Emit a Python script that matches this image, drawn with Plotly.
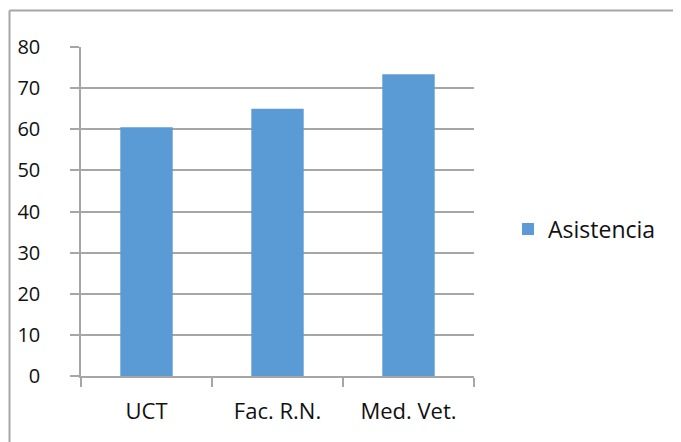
import plotly.graph_objects as go

categories = ["UCT", "Fac. R.N.", "Med. Vet."]
asistencia = [60.5, 65, 73.4]
series_name = "Asistencia"
y_ticks = [0, 10, 20, 30, 40, 50, 60, 70, 80]

OFF = 8  # default page body margin
W, H = 681, 442
# target plot area in page pixels: x 81..474, y 47..376
PX0, PX1, PY0, PY1 = 81, 474, 47, 376
L = PX0 - OFF
T = PY0 - OFF
R = W - (PX1 - OFF)
B = H - (PY1 - OFF)
pw = PX1 - PX0
ph = PY1 - PY0

def px_x(x):
    return (x - PX0) / pw

def px_y(y):
    return (PY1 - y) / ph

fig = go.Figure()
fig.add_trace(go.Bar(
    x=categories, y=asistencia, name=series_name,
    marker=dict(color="#5b9bd5", line=dict(width=0)),
    showlegend=True,
))

grid = "#a6a6a6"
fig.update_layout(
    width=W, height=H,
    margin=dict(l=L, r=R, t=T, b=B, autoexpand=False),
    paper_bgcolor="white", plot_bgcolor="white",
    font=dict(family="Open Sans, Noto Sans, sans-serif", size=22, color="#111111"),
    bargap=0.6,
    showlegend=True,
    legend=dict(x=px_x(508), y=px_y(229), xanchor="left", yanchor="middle",
                font=dict(size=23), bgcolor="rgba(0,0,0,0)"),
    xaxis=dict(
        type="category", showgrid=False, showline=True, linecolor=grid, linewidth=1.5,
        ticks="outside", tickson="boundaries", ticklen=9, tickcolor=grid, tickwidth=1.5,
        ticklabelstandoff=15, zeroline=False, automargin=False,
        tickfont=dict(size=22),
    ),
    yaxis=dict(
        range=[0, 80], tickvals=y_ticks, showgrid=True, gridcolor=grid, gridwidth=1.5,
        showline=True, linecolor=grid, linewidth=1.5,
        ticks="outside", ticklen=9, tickcolor=grid, tickwidth=1.5,
        ticklabelstandoff=26, zeroline=False, automargin=False,
        tickfont=dict(size=20),
    ),
    shapes=[
        dict(type="line", xref="paper", yref="paper",
             x0=px_x(9.5), x1=px_x(9.5), y0=px_y(460), y1=px_y(10.5),
             line=dict(color="#a6a6a6", width=2)),
        dict(type="line", xref="paper", yref="paper",
             x0=px_x(9.5), x1=px_x(700), y0=px_y(10.5), y1=px_y(10.5),
             line=dict(color="#a6a6a6", width=2)),
    ],
)

fig.write_html("out.html")
